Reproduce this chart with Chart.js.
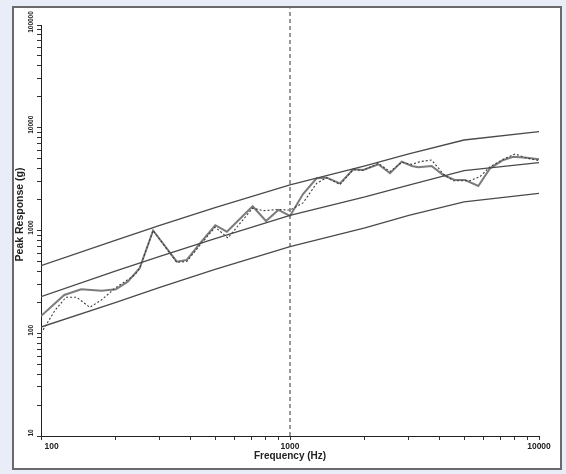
<!DOCTYPE html>
<html>
<head>
<meta charset="utf-8">
<script src="https://cdn.jsdelivr.net/npm/chart.js@4/dist/chart.umd.min.js"></script>
<style>
  html, body { margin: 0; padding: 0; background: #e8edf7; }
  canvas { display: block; }
</style>
</head>
<body>
<canvas id="srs" width="566" height="474"></canvas>
<script>
// Measured shock response spectrum (solid) and repeat run (dotted), Hz -> g
const freqMeasured = [100, 124, 145, 175, 200, 223, 249, 282, 351, 385, 435, 501, 558, 708, 801, 898, 1000,
  1128, 1279, 1404, 1588, 1795, 1968, 2263, 2521, 2810, 3083, 3273, 3706, 4126, 4603, 5047, 5705, 6357,
  7189, 7884, 8930, 10000];
const respMeasured = [147, 236, 268, 259, 268, 318, 429, 1000, 497, 517, 750, 1125, 973, 1720, 1236, 1585, 1384,
  2264, 3221, 3266, 2877, 3945, 3882, 4406, 3606, 4677, 4246, 4121, 4246, 3467, 3097, 3097, 2710, 4028,
  4855, 5228, 5112, 4932];

const freqRepeat = [100, 114, 126, 139, 157, 175, 198, 238, 249, 282, 351, 385, 435, 501, 563, 708, 780, 900,
  1000, 1128, 1279, 1404, 1588, 1795, 1968, 2263, 2521, 2810, 3083, 3327, 3706, 4126, 4528, 5284, 5796,
  6357, 7189, 8017, 8930, 10000];
const respRepeat = [100, 168, 224, 224, 179, 211, 274, 369, 429, 1000, 490, 500, 720, 1080, 845, 1650, 1560, 1600,
  1580, 1854, 2877, 3266, 2800, 3900, 3850, 4500, 3750, 4600, 4400, 4677, 4855, 3548, 3053, 3053, 3342,
  4178, 4932, 5560, 5047, 4800];

// Test specification: nominal level with +6 dB / -6 dB tolerance bands
const freqSpec = [100, 200, 300, 500, 1000, 2000, 3000, 5000, 10000];
const specUpper = [455, 805, 1120, 1670, 2780, 4250, 5560, 7600, 9160];
const specNominal = [227, 404, 560, 834, 1400, 2120, 2770, 3820, 4570];
const specLower = [115, 200, 280, 418, 695, 1060, 1400, 1900, 2300];

// Vertical marker at 1000 Hz
const markerFreq = [1000, 1000];
const markerResp = [10, 145000];

// Axis ticks: every 1..9 step in each decade, labels only on decades
const xDecades = [100, 1000];
const yDecades = [10, 100, 1000, 10000];
const steps = [1, 2, 3, 4, 5, 6, 7, 8, 9];
const xTickValues = xDecades.flatMap(d => steps.map(s => s * d)).concat([10000]);
const yTickValues = yDecades.flatMap(d => steps.map(s => s * d)).concat([100000]);
const xTickLabels = { 100: '         100', 1000: '1000', 10000: '10000' };
const yTickLabels = { 10: '10', 100: '100', 1000: '1000', 10000: '10000', 100000: '100000' };

const pts = (xs, ys) => xs.map((x, i) => ({ x: x, y: ys[i] }));

const FONT = "'Liberation Sans', Arial, sans-serif";

const framePlugin = {
  id: 'frame',
  beforeDraw(chart) {
    const ctx = chart.ctx;
    ctx.save();
    ctx.fillStyle = '#e8edf7';
    ctx.fillRect(0, 0, chart.width, chart.height);
    ctx.fillStyle = '#ffffff';
    ctx.fillRect(13, 7, 548, 462);
    ctx.strokeStyle = '#6a6a6a';
    ctx.lineWidth = 2;
    ctx.strokeRect(13, 7, 548, 462);
    ctx.restore();
  }
};

const specStyle = { borderColor: '#4a4a4a', borderWidth: 1.3, pointRadius: 0, tension: 0, fill: false };

new Chart(document.getElementById('srs'), {
  type: 'line',
  data: {
    datasets: [
      Object.assign({ label: 'Upper', data: pts(freqSpec, specUpper) }, specStyle),
      Object.assign({ label: 'Nominal', data: pts(freqSpec, specNominal) }, specStyle),
      Object.assign({ label: 'Lower', data: pts(freqSpec, specLower) }, specStyle),
      {
        label: 'Repeat', data: pts(freqRepeat, respRepeat),
        borderColor: '#3c3c3c', borderWidth: 1.1, borderDash: [2, 2], pointRadius: 0, tension: 0
      },
      {
        label: 'Measured', data: pts(freqMeasured, respMeasured),
        borderColor: '#7c7c7c', borderWidth: 2, pointRadius: 0, tension: 0
      },
      {
        label: '1000 Hz', data: pts(markerFreq, markerResp),
        borderColor: '#333333', borderWidth: 1, borderDash: [4, 3], pointRadius: 0, clip: false
      }
    ]
  },
  options: {
    responsive: false,
    animation: false,
    layout: { padding: { top: 25, right: 27, bottom: 0, left: 0 } },
    plugins: { legend: { display: false }, tooltip: { enabled: false } },
    scales: {
      x: {
        type: 'logarithmic',
        position: 'bottom',
        min: 100,
        max: 10000,
        afterBuildTicks: s => { s.ticks = xTickValues.map(v => ({ value: v })); },
        afterFit: s => { s.height = 38; },
        ticks: {
          autoSkip: false, minRotation: 0, maxRotation: 0, padding: 2, color: '#222',
          font: { family: FONT, size: 8.5, weight: 'bold' },
          callback: v => xTickLabels[v] || ''
        },
        grid: { drawOnChartArea: false, drawTicks: true, tickLength: 4, color: '#333' },
        border: { display: true, color: '#222', width: 1 },
        title: {
          display: true, text: 'Frequency (Hz)', color: '#222',
          font: { family: FONT, size: 10, weight: 'bold' },
          padding: { top: 0, bottom: 12 }
        }
      },
      y: {
        type: 'logarithmic',
        position: 'left',
        min: 10,
        max: 100000,
        afterBuildTicks: s => { s.ticks = yTickValues.map(v => ({ value: v })); },
        afterFit: s => { s.width = 41; },
        ticks: {
          autoSkip: false, minRotation: 90, maxRotation: 90, crossAlign: 'center',
          padding: -5.5, labelOffset: -3, color: '#222',
          font: { family: FONT, size: 6.5, weight: 'bold' },
          callback: v => yTickLabels[v] || ''
        },
        grid: { drawOnChartArea: false, drawTicks: true, tickLength: 4, color: '#333' },
        border: { display: true, color: '#222', width: 1 },
        title: {
          display: true, text: '           Peak Response (g)', color: '#222',
          font: { family: FONT, size: 10.5, weight: 'bold' },
          padding: { top: 13.7, bottom: 0 }
        }
      }
    }
  },
  plugins: [framePlugin]
});
</script>
</body>
</html>
